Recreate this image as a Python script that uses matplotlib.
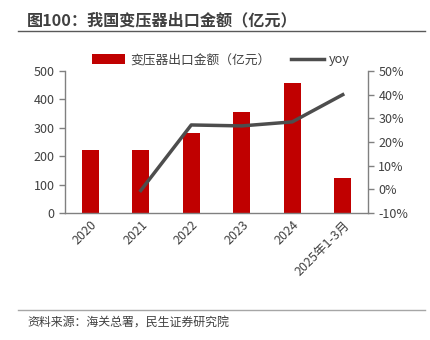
import matplotlib
matplotlib.use("Agg")
import matplotlib.pyplot as plt
from matplotlib.lines import Line2D
from matplotlib.patches import Patch

plt.rcParams['font.family'] = ['Noto Sans CJK SC', 'DejaVu Sans']

categories = ["2020", "2021", "2022", "2023", "2024", "2025年1-3月"]
export_value = [222, 221, 281, 357, 459, 124]
yoy = [None, -0.5, 27.2, 26.8, 28.5, 40.0]
left_ticks = [0, 100, 200, 300, 400, 500]
right_ticks = [-10, 0, 10, 20, 30, 40, 50]

fig = plt.figure(figsize=(4.31, 3.40), dpi=100)
W, H = 431, 340
ax = fig.add_axes([65 / W, 1 - 213 / H, (368 - 65) / W, (213 - 71) / H])
ax2 = ax.twinx()

x = list(range(len(categories)))
bar_color = "#C00000"
line_color = "#4D4D4D"
spine_color = "#808080"
text_color = "#404040"

ax.bar(x, export_value, width=0.34, color=bar_color, zorder=2)
xs = [i for i, v in zip(x, yoy) if v is not None]
ys = [v for v in yoy if v is not None]
ax2.plot(xs, ys, color=line_color, lw=2.5, zorder=3)

ax.set_xlim(-0.5, len(categories) - 0.5)
ax.set_ylim(0, 500)
ax.set_yticks(left_ticks)
ax2.set_ylim(-10, 50)
ax2.set_yticks(right_ticks)
ax2.set_yticklabels([f"{t}%" for t in right_ticks])

ax.set_xticks(x)
ax.set_xticklabels(categories, rotation=45, ha="right", rotation_mode="anchor")

for a in (ax, ax2):
    a.spines['top'].set_visible(False)
    for s in ('left', 'right', 'bottom'):
        a.spines[s].set_color(spine_color)
        a.spines[s].set_linewidth(1.0)
    a.tick_params(colors=text_color, labelsize=9, length=4, width=1, direction='out')
    a.tick_params(axis='both', color=spine_color)
ax.spines['right'].set_visible(False)
ax2.spines['left'].set_visible(False)
ax2.spines['bottom'].set_visible(False)
ax.tick_params(axis='x', length=0, pad=4)

handles = [Patch(facecolor=bar_color, edgecolor='none'),
           Line2D([0], [0], color=line_color, lw=2.5)]
labels = ["变压器出口金额（亿元）", "yoy"]
fig.legend(handles, labels, loc='center', bbox_to_anchor=(221 / W, 1 - 60 / H),
           ncol=2, frameon=False, fontsize=9.2, handlelength=2.6, handleheight=0.8,
           columnspacing=1.6, handletextpad=0.4, labelcolor=text_color)

fig.text(27 / W, 1 - 20 / H, "图100：我国变压器出口金额（亿元）", fontsize=11.6,
         fontweight='bold', color="#404040", va='center', ha='left')
fig.add_artist(Line2D([18 / W, 425 / W], [1 - 31 / H, 1 - 31 / H], color="#595959", lw=1.0))
fig.add_artist(Line2D([18 / W, 425 / W], [1 - 310 / H, 1 - 310 / H], color="#A6A6A6", lw=1.0))
fig.text(27 / W, 1 - 322 / H, "资料来源：海关总署，民生证券研究院", fontsize=8.6,
         color="#404040", va='center', ha='left')

fig.savefig("out.png", dpi=100)
